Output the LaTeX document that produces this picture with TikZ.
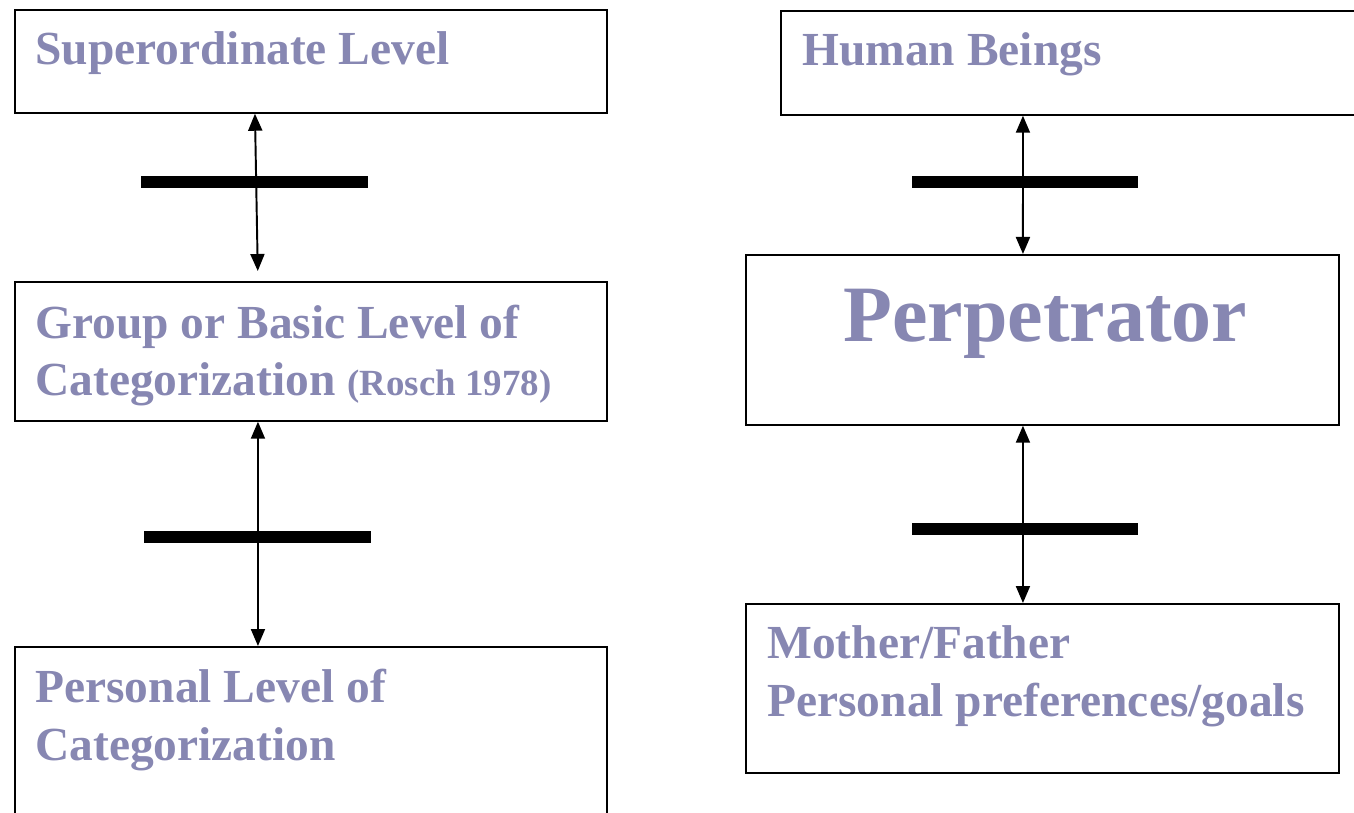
\documentclass[tikz,border=0pt]{standalone}
\usepackage{fontspec}
\setmainfont{Liberation Serif}
\usetikzlibrary{arrows.meta,positioning}
\definecolor{lvl}{RGB}{135,135,178}

\begin{document}
\begin{tikzpicture}[
  x=0.02cm,y=-0.02cm,
  >={Triangle[length=3.4mm,width=2.8mm]},
  box/.style={draw,line width=1pt,inner sep=0pt,anchor=north west},
  lbl/.style={anchor=base west,inner sep=0pt,text=lvl,align=left,
    font=\bfseries\fontsize{27}{33}\selectfont},
  arc/.style={<->,line width=1.1pt},
  bar/.style={line width=7pt}
]
\clip (0,0) rectangle (1354,813);
% left column
\node[box,minimum width=11.84cm,minimum height=2.06cm] (super) at (14,9) {};
\node[box,minimum width=11.84cm,minimum height=2.78cm] (group) at (14,281) {};
\node[box,minimum width=11.84cm,minimum height=4cm] (personal) at (14,646) {};
\node[lbl] (tsuper) at (35,65) {Superordinate Level};
\node[lbl] (tgroup) at (35,396) {Group or Basic Level of\\Categorization {\fontsize{21}{24}\selectfont(Rosch 1978)}};
\node[lbl] (tpersonal) at (35,760) {Personal Level of\\Categorization};
\draw[arc,shorten >=0.2cm] ([xshift=4.82cm]super.south west) -- ([xshift=4.88cm]group.north west);
\draw[arc] ([xshift=4.88cm]group.south west) -- ([xshift=4.88cm]personal.north west);
\draw[bar] (141,182) -- (368,182);
\draw[bar] (144,537) -- (371,537);
% right column
\node[box,minimum width=12cm,minimum height=2.08cm] (human) at (780,10) {};
\node[box,minimum width=11.86cm,minimum height=3.4cm] (perp) at (745,254) {};
\node[box,minimum width=11.86cm,minimum height=3.38cm] (mother) at (745,603) {};
\node[lbl] (thuman) at (802,66) {Human Beings};
\node[lbl,font=\bfseries\fontsize{45.5}{50}\selectfont] (tperp) at (843,342) {Perpetrator};
\node[lbl] (tmother) at (767,716) {Mother/Father\\Personal preferences/goals};
\draw[arc] ([xshift=4.86cm]human.south west) -- ([xshift=5.56cm]perp.north west);
\draw[arc] ([xshift=5.56cm]perp.south west) -- ([xshift=5.56cm]mother.north west);
\draw[bar] (912,182) -- (1138,182);
\draw[bar] (912,529) -- (1138,529);
\end{tikzpicture}
\end{document}
